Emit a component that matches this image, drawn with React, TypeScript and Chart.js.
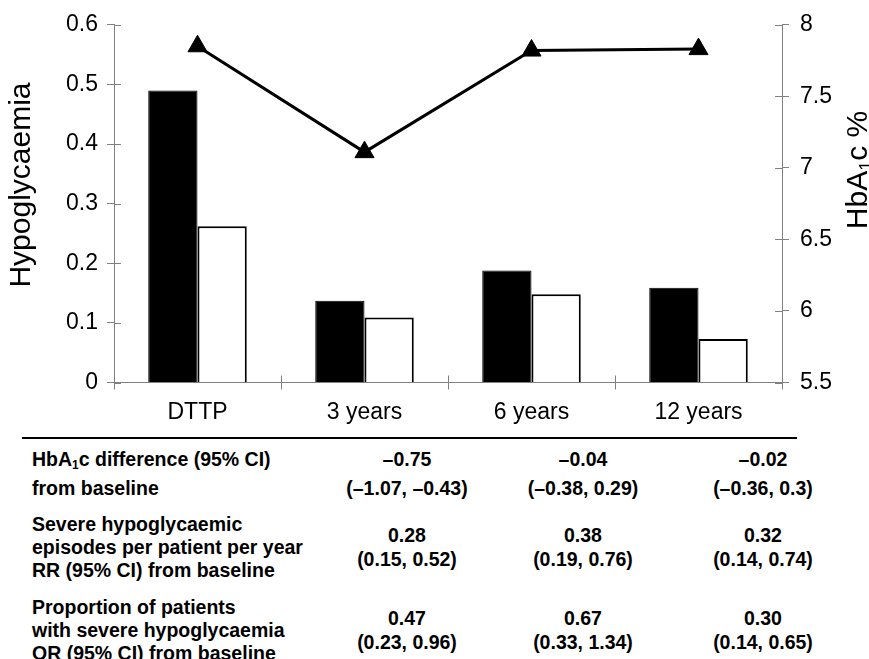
import React, { useEffect, useRef } from 'react';
import { Chart, registerables } from 'chart.js';

Chart.register(...registerables);

const categories = ['DTTP', '3 years', '6 years', '12 years'];
const blackBars = [0.49, 0.137, 0.188, 0.159];
const whiteBars = [0.262, 0.109, 0.148, 0.073];
const hba1cLine = [7.85, 7.11, 7.82, 7.83];

const hba1cDiff = ['\u20130.75', '\u20130.04', '\u20130.02'];
const hba1cCI = ['(\u20131.07, \u20130.43)', '(\u20130.38, 0.29)', '(\u20130.36, 0.3)'];
const rrValues = ['0.28', '0.38', '0.32'];
const rrCI = ['(0.15, 0.52)', '(0.19, 0.76)', '(0.14, 0.74)'];
const orValues = ['0.47', '0.67', '0.30'];
const orCI = ['(0.23, 0.96)', '(0.33, 1.34)', '(0.14, 0.65)'];

const FONT = '"Liberation Sans", Arial, sans-serif';
const AXIS_GREY = '#808080';

const columnX = [407, 583, 763];

const fmt = (v: any) => String(parseFloat(Number(v).toFixed(2)));

const titlesPlugin = {
  id: 'titlesAndTicks',
  afterDraw(chart: any) {
    const ctx = chart.ctx;
    const area = chart.chartArea;
    ctx.save();
    ctx.strokeStyle = AXIS_GREY;
    ctx.lineWidth = 1;
    const ys = chart.scales.y;
    ys.ticks.forEach((_t: any, i: number) => {
      const p = Math.round(ys.getPixelForTick(i)) + 0.5;
      ctx.beginPath();
      ctx.moveTo(area.left, p);
      ctx.lineTo(area.left + 7, p);
      ctx.stroke();
    });
    const y1 = chart.scales.y1;
    y1.ticks.forEach((_t: any, i: number) => {
      const p = Math.round(y1.getPixelForTick(i)) + 0.5;
      ctx.beginPath();
      ctx.moveTo(area.right - 7, p);
      ctx.lineTo(area.right, p);
      ctx.stroke();
    });
    const xs = chart.scales.x;
    const n = xs.ticks.length;
    for (let i = 0; i <= n; i++) {
      const p = Math.round(area.left + (i * (area.right - area.left)) / n) + 0.5;
      ctx.beginPath();
      ctx.moveTo(p, area.bottom - 7);
      ctx.lineTo(p, area.bottom);
      ctx.stroke();
    }

    ctx.fillStyle = '#000';
    ctx.font = `30px ${FONT}`;
    ctx.textAlign = 'center';
    ctx.textBaseline = 'middle';
    ctx.translate(22, 185);
    ctx.rotate(-Math.PI / 2);
    ctx.fillText('Hypoglycaemia', 0, 0);
    ctx.restore();

    ctx.save();
    ctx.fillStyle = '#000';
    ctx.textBaseline = 'alphabetic';
    ctx.textAlign = 'left';
    const big = `30px ${FONT}`;
    const small = `18px ${FONT}`;
    ctx.font = big;
    const w1 = ctx.measureText('HbA').width;
    const w3 = ctx.measureText('c %').width;
    ctx.font = small;
    const w2 = ctx.measureText('1').width;
    const total = w1 + w2 + w3;
    ctx.translate(867, 170);
    ctx.rotate(-Math.PI / 2);
    let x = -total / 2;
    ctx.font = big;
    ctx.fillText('HbA', x, 0);
    x += w1;
    ctx.font = small;
    ctx.fillText('1', x, 5);
    x += w2;
    ctx.font = big;
    ctx.fillText('c %', x, 0);
    ctx.restore();
  },
};

function ChartCanvas() {
  const ref = useRef<HTMLCanvasElement | null>(null);
  useEffect(() => {
    if (!ref.current) return;
    const chart = new Chart(ref.current, {
      type: 'bar',
      data: {
        labels: categories,
        datasets: [
          {
            type: 'line',
            label: 'HbA1c',
            data: hba1cLine,
            yAxisID: 'y1',
            borderColor: '#000',
            borderWidth: 3,
            pointStyle: 'triangle',
            pointRadius: 11,
            pointBackgroundColor: '#000',
            pointBorderColor: '#000',
            pointBorderWidth: 1,
            tension: 0,
            order: 0,
          } as any,
          {
            type: 'bar',
            label: 'Black',
            data: blackBars,
            yAxisID: 'y',
            backgroundColor: '#000',
            borderColor: '#000',
            borderWidth: 1,
            order: 1,
          },
          {
            type: 'bar',
            label: 'White',
            data: whiteBars,
            yAxisID: 'y',
            backgroundColor: '#fff',
            borderColor: '#000',
            borderWidth: 2,
            order: 1,
          },
        ],
      },
      options: {
        responsive: false,
        animation: false,
        devicePixelRatio: 1,
        layout: { padding: { left: 0, right: 0, top: 23, bottom: 0 } },
        plugins: {
          legend: { display: false },
          tooltip: { enabled: false },
          title: { display: false },
        },
        datasets: {
          bar: { categoryPercentage: 0.59, barPercentage: 1.0 },
        },
        scales: {
          x: {
            grid: {
              display: true,
              drawOnChartArea: false,
              tickLength: 7,
              color: AXIS_GREY,
            },
            border: { display: true, color: AXIS_GREY },
            ticks: {
              color: '#000',
              font: { family: FONT, size: 23 },
              padding: 9,
              maxRotation: 0,
            },
            afterFit(scale: any) {
              scale.height = 57.5;
            },
          },
          y: {
            position: 'left',
            min: 0,
            max: 0.6,
            ticks: {
              stepSize: 0.1,
              color: '#000',
              font: { family: FONT, size: 23 },
              padding: 9,
              callback: fmt,
            },
            grid: {
              display: true,
              drawOnChartArea: false,
              tickLength: 7,
              color: AXIS_GREY,
            },
            border: { display: true, color: AXIS_GREY },
            afterFit(scale: any) {
              scale.width = 114;
            },
          },
          y1: {
            position: 'right',
            min: 5.5,
            max: 8,
            ticks: {
              stepSize: 0.5,
              color: '#000',
              font: { family: FONT, size: 23 },
              padding: 11,
              callback: fmt,
            },
            grid: {
              display: true,
              drawOnChartArea: false,
              tickLength: 7,
              color: AXIS_GREY,
            },
            border: { display: true, color: AXIS_GREY },
            afterFit(scale: any) {
              scale.width = 87;
            },
          },
        },
      },
      plugins: [titlesPlugin],
    });
    return () => chart.destroy();
  }, []);
  return (
    <canvas
      ref={ref}
      width={869}
      height={440}
      style={{ position: 'absolute', left: 0, top: 0, width: 869, height: 440 }}
    />
  );
}

const LINE_H = 22;

function TextLine({ top, left, children, center }: any) {
  return (
    <div
      style={{
        position: 'absolute',
        top: top - LINE_H / 2,
        left: center ? left - 110 : left,
        width: center ? 220 : undefined,
        textAlign: center ? 'center' : 'left',
        whiteSpace: 'nowrap',
        lineHeight: `${LINE_H}px`,
        fontSize: 19.5,
        fontWeight: 'bold',
        fontFamily: FONT,
        color: '#000',
      }}
    >
      {children}
    </div>
  );
}

export default function App() {
  return (
    <div
      style={{
        position: 'fixed',
        left: 0,
        top: 0,
        width: 869,
        height: 659,
        background: '#fff',
        overflow: 'hidden',
      }}
    >
      <ChartCanvas />
      <div
        style={{
          position: 'absolute',
          left: 22,
          top: 437,
          width: 775,
          height: 0,
          borderTop: '2px solid #000',
        }}
      />
      <TextLine top={459} left={32}>
        HbA<sub style={{ fontSize: 12, verticalAlign: '-3px', lineHeight: 0 }}>1</sub>c difference (95% CI)
      </TextLine>
      <TextLine top={488} left={32}>from baseline</TextLine>
      <TextLine top={524} left={32}>Severe hypoglycaemic</TextLine>
      <TextLine top={547} left={32}>episodes per patient per year</TextLine>
      <TextLine top={570} left={32}>RR (95% CI) from baseline</TextLine>
      <TextLine top={607} left={32}>Proportion of patients</TextLine>
      <TextLine top={630} left={32}>with severe hypoglycaemia</TextLine>
      <TextLine top={653} left={32}>OR (95% CI) from baseline</TextLine>
      {columnX.map((cx, i) => (
        <React.Fragment key={i}>
          <TextLine top={459} left={cx} center>{hba1cDiff[i]}</TextLine>
          <TextLine top={488} left={cx} center>{hba1cCI[i]}</TextLine>
          <TextLine top={535} left={cx} center>{rrValues[i]}</TextLine>
          <TextLine top={559} left={cx} center>{rrCI[i]}</TextLine>
          <TextLine top={618} left={cx} center>{orValues[i]}</TextLine>
          <TextLine top={642} left={cx} center>{orCI[i]}</TextLine>
        </React.Fragment>
      ))}
    </div>
  );
}
